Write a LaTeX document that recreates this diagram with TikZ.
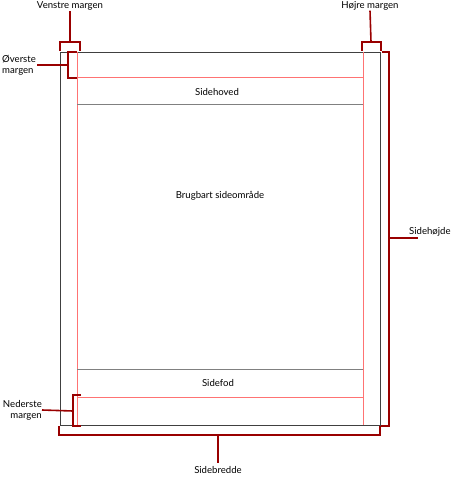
\documentclass[tikz,border=0pt]{standalone}
\usepackage{fontspec}
\setmainfont{Lato}
\usepackage{tikz}
\usetikzlibrary{positioning,calc}

\begin{document}
\begin{tikzpicture}[x=1pt,y=-1pt]
    \tikzstyle{every node} = [font=\fontsize{9.6}{11}\selectfont, inner sep=0pt]
    \tikzstyle{page} = [draw=black!75, line width=0.9pt]
    \tikzstyle{marginline} = [draw=red!55, line width=0.8pt]
    \tikzstyle{sectionline} = [draw=black!50, line width=0.8pt]
    \tikzstyle{brace} = [draw=red!60!black, line width=1.6pt]
    \useasboundingbox (0,0) rectangle (454,478);

    % place nodes
    \coordinate (pageNW) at (60,52);
    \coordinate (pageSE) at (380,425);
    \node (header) at (217,92) {Sidehoved};
    \node (body) at (220,196) {Brugbart sideområde};
    \node (footer) at (218,383) {Sidefod};
    \node (leftLabel) at (70,6) {Venstre margen};
    \node (rightLabel) at (370,6) {Højre margen};
    \node[align=left,anchor=west] (topLabel) at (2,65) {Øverste\\margen};
    \node[align=right,anchor=east] (bottomLabel) at (42,410) {Nederste\\margen};
    \node[anchor=west] (heightLabel) at (409,232) {Sidehøjde};
    \node (widthLabel) at (218,470) {Sidebredde};

    % page and margins
    \draw[page] (pageNW) rectangle (pageSE);
    \draw[marginline] (77,52) -- (77,425);
    \draw[marginline] (363,52) -- (363,425);
    \draw[marginline] (77,77) -- (363,77);
    \draw[marginline] (77,397) -- (363,397);
    \draw[sectionline] (77,104) -- (363,104);
    \draw[sectionline] (77,369) -- (363,369);

    % Connections
    \draw[brace] (60,51) |- (80,42) -- (80,51);
    \draw[brace] (70,42) -- (leftLabel.south);
    \draw[brace] (362,51) |- (381,42) -- (381,51);
    \draw[brace] (371,42) -- (rightLabel.south);
    \draw[brace] (77,52) -| (68,78) -- (77,78);
    \draw[brace] (68,65) -- (37,65);
    \draw[brace] (81,395) -| (73,426) -- (81,426);
    \draw[brace] (73,411) -- (bottomLabel.east);
    \draw[brace] (382,52) -| (389,426) -- (381,426);
    \draw[brace] (389,238) -- (418,238);
    \draw[brace] (59,426) |- (380,435) -- (380,426);
    \draw[brace] (218,435) -- (218,463);
\end{tikzpicture}
\end{document}
